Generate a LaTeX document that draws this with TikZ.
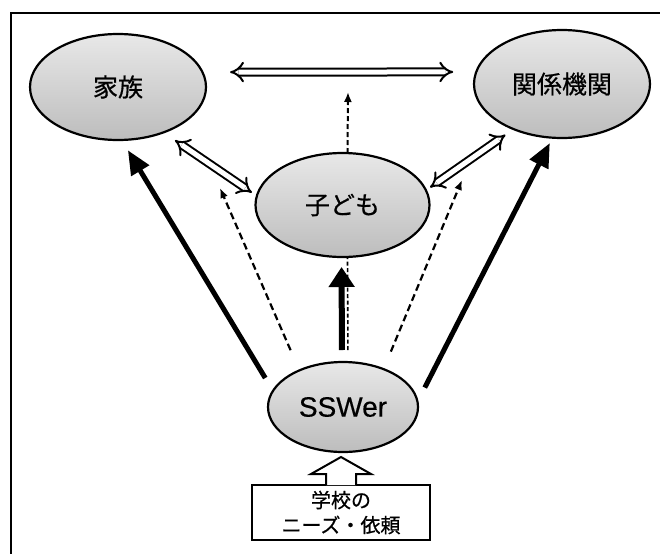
\documentclass[tikz,border=0pt]{standalone}
\usepackage{fontspec}
\setmainfont{Noto Sans CJK JP}[FakeBold=0.6]
\newfontfamily\latinsans{Liberation Sans}[FakeBold=0.4]
\usetikzlibrary{arrows.meta,shapes.geometric}
\begin{document}
\begin{tikzpicture}[x=1pt,y=-1pt,
  bubble/.style={ellipse, draw, line width=2.2pt, top color=gray!18, bottom color=gray!52,
    inner sep=0pt, outer sep=0pt, font=\fontsize{25}{28}\selectfont},
  strong/.style={line width=5pt, -{Triangle[length=24pt,width=20pt]}},
  hint/.style={line width=2.2pt, dash pattern=on 7pt off 4pt, -{Latex[length=10pt,width=8pt]}},
  hollow/.style={double, double distance=5pt, line width=2pt, {Implies[scale=1.3]}-{Implies[scale=1.3]}},
  needbox/.style={draw, line width=2pt, minimum width=178pt, minimum height=55pt,
    inner sep=0pt, align=center, font=\fontsize{20}{25}\selectfont}
]
\useasboundingbox (0,0) rectangle (660,554);
% frame
\draw[line width=2.5pt] (660,13) -- (11,13) -- (11,554);

% nodes
\node[bubble, minimum width=176pt, minimum height=106pt] (fam) at (118,87) {家族};
\node[bubble, minimum width=176pt, minimum height=108pt] (org) at (562,84) {関係機関};
\node[bubble, minimum width=174pt, minimum height=104pt] (child) at (342.5,205) {子ども};
\node[bubble, minimum width=150pt, minimum height=90pt] (ssw) at (343,407) {\latinsans\fontsize{28}{30}\selectfont SSWer};
\node[needbox] (need) at (341,512.5) {学校の\\ニーズ・依頼};

% free ends of the dashed arrows (pointing at relations)
\coordinate (relFC) at (220,188);
\coordinate (relCO) at (462,180);
\coordinate (relFO) at (348,92);

% hollow two-way arrows
\draw[hollow, shorten <=27.6pt, shorten >=23pt] (fam.10) -- (org.172);
\draw[hollow, shorten <=14pt, shorten >=6pt] (fam.-45) -- (child.174);
\draw[hollow, shorten <=5pt, shorten >=10pt] (child.10) -- (org.-137);

% strong arrows
\draw[strong, shorten <=15pt, shorten >=12pt] (ssw.167) -- (fam.-86);
\draw[strong, shorten <=16pt, shorten >=6pt] (ssw.4) -- (org.-100);
\draw[line width=6pt, -{Triangle[length=20pt,width=25pt]}, shorten <=12pt, shorten >=10pt]
  ([xshift=-1pt]ssw.north) -- ([xshift=-1pt]child.south);

% dashed arrows
\draw[hint, shorten <=22pt] (ssw.140) -- (relFC);
\draw[hint, shorten <=19pt] (ssw.43) -- (relCO);
\draw[line width=1.6pt, dash pattern=on 4pt off 2.5pt, shorten <=12pt]
  ([xshift=5pt]ssw.north) -- ([xshift=5pt]child.south);
\draw[line width=2pt, dash pattern=on 5pt off 3pt, -{Latex[length=10pt,width=8pt]}]
  ([xshift=5pt]child.north) -- (relFO);

% block arrow from the school box to SSWer
\draw[line width=2pt, fill=white, line join=miter]
  ([xshift=-15pt,yshift=-1pt]need.north) -- ++(0,-11) -- ++(-15,0) -- ++(30,-17)
  -- ++(30,17) -- ++(-15,0) -- ++(0,11);
\end{tikzpicture}
\end{document}
